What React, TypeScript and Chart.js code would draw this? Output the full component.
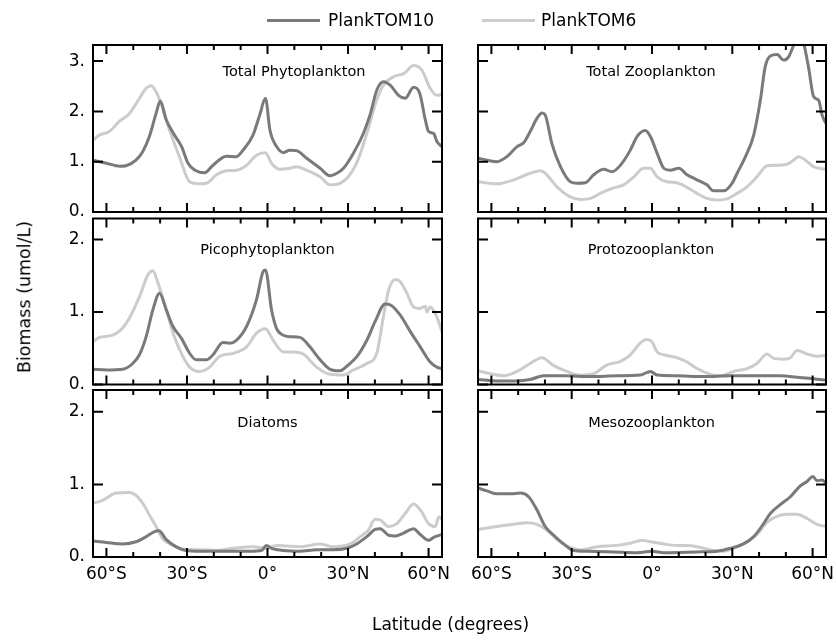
import React, { useEffect, useRef } from 'react';
import { Chart, registerables } from 'chart.js';

Chart.register(...registerables);

type Pt = [number, number];

// ---- data: [latitude, biomass (umol/L)] ----
const totalPhytoTOM10: Pt[] = [[-65,1.03],[-60,0.97],[-55,0.91],[-52.7,0.92],[-49,1.03],[-46.5,1.2],[-44,1.5],[-41.5,1.96],[-40,2.2],[-37.7,1.83],[-35,1.56],[-32,1.3],[-29.6,0.97],[-27,0.83],[-23.4,0.78],[-20.3,0.93],[-15.3,1.11],[-11.6,1.1],[-9.1,1.23],[-5.4,1.53],[-2.9,1.93],[-0.75,2.26],[0.9,1.63],[3.4,1.3],[5.9,1.18],[8.3,1.23],[10.8,1.22],[14.6,1.07],[19.6,0.87],[23.3,0.72],[25.8,0.77],[28.3,0.87],[32,1.17],[35.7,1.56],[38.2,1.93],[40.7,2.42],[43.2,2.59],[45.7,2.52],[48.8,2.32],[51.3,2.26],[54.4,2.48],[56.7,2.36],[58.8,1.83],[60,1.6],[61.9,1.56],[63.1,1.4],[65,1.3]];
const totalPhytoTOM6: Pt[] = [[-65,1.43],[-62.6,1.53],[-58.9,1.6],[-55.2,1.8],[-51.4,1.96],[-47.7,2.26],[-45.2,2.46],[-43.3,2.51],[-41.5,2.39],[-39,2.06],[-36.5,1.63],[-32.8,1.1],[-29,0.6],[-25.3,0.56],[-22.8,0.57],[-19,0.74],[-15.3,0.82],[-11.6,0.83],[-7.8,0.93],[-4.1,1.13],[-0.75,1.18],[1.5,0.97],[4.6,0.85],[8.3,0.87],[10.8,0.9],[14.6,0.83],[19.6,0.7],[23.3,0.54],[27,0.57],[30.1,0.7],[33.2,0.97],[37,1.56],[40.7,2.23],[43.2,2.52],[46.9,2.69],[50.7,2.75],[54.4,2.91],[57.5,2.82],[60.6,2.46],[63.1,2.32],[65,2.34]];
const totalZooTOM10: Pt[] = [[-65,1.07],[-61.6,1.03],[-57.9,1.0],[-54.2,1.1],[-50.4,1.3],[-47.9,1.38],[-45.5,1.6],[-43,1.86],[-41.1,1.97],[-39.9,1.93],[-37.4,1.36],[-34.2,0.9],[-30.5,0.6],[-28,0.57],[-24.9,0.58],[-21.8,0.74],[-18.1,0.85],[-14.9,0.8],[-11.8,0.93],[-8.1,1.23],[-5.6,1.5],[-2.5,1.62],[-0.6,1.5],[1.9,1.17],[4.4,0.87],[6.8,0.83],[10,0.87],[13.1,0.74],[16.8,0.64],[20.5,0.54],[23,0.42],[26.8,0.42],[29.9,0.57],[31.8,0.77],[34.9,1.1],[38,1.53],[40.5,2.23],[42.3,2.89],[44.2,3.1],[46.7,3.13],[49.2,3.02],[51.1,3.09],[53.5,3.4],[55,3.6],[56.5,3.4],[58.5,2.87],[60.4,2.29],[62.3,2.22],[63.5,1.93],[65,1.76]];
const totalZooTOM6: Pt[] = [[-65,0.6],[-57.9,0.56],[-51.7,0.64],[-45.5,0.77],[-41.7,0.82],[-39.9,0.77],[-35.5,0.5],[-30.5,0.3],[-26.8,0.25],[-23,0.27],[-19.3,0.37],[-14.9,0.47],[-10.6,0.54],[-6.8,0.7],[-3.1,0.87],[-0.6,0.87],[1.9,0.7],[5.6,0.6],[9.3,0.58],[13.1,0.49],[16.8,0.37],[20.5,0.27],[24.3,0.24],[28,0.26],[31.8,0.37],[35.5,0.5],[39.2,0.7],[43,0.92],[46.7,0.93],[50.4,0.95],[52.9,1.03],[54.8,1.1],[57.3,1.03],[60.4,0.9],[65,0.85]];
const picoTOM10: Pt[] = [[-65,0.21],[-60,0.2],[-53.9,0.21],[-50.2,0.29],[-47.7,0.41],[-45.2,0.66],[-42.7,1.03],[-40.2,1.26],[-37.7,1.03],[-35.2,0.8],[-32.1,0.64],[-29,0.43],[-26.5,0.34],[-22.8,0.34],[-20.3,0.41],[-16.6,0.58],[-14.1,0.57],[-11.6,0.61],[-7.8,0.8],[-4.1,1.17],[-1.6,1.56],[-0.75,1.58],[1.5,1.03],[3.4,0.77],[5.9,0.68],[8.3,0.66],[12.1,0.65],[15.8,0.52],[19.6,0.34],[23.3,0.21],[27,0.19],[30.1,0.27],[33.2,0.38],[37,0.61],[40.1,0.87],[43.8,1.11],[45.7,1.1],[49.4,0.96],[53.2,0.73],[56.9,0.52],[60.6,0.31],[63.1,0.24],[65,0.22]];
const picoTOM6: Pt[] = [[-65,0.59],[-62.6,0.65],[-57.7,0.68],[-52.7,0.84],[-47.7,1.21],[-44.6,1.51],[-42.7,1.57],[-40.8,1.4],[-37.7,1.03],[-35.2,0.71],[-32.1,0.43],[-29,0.24],[-25.3,0.18],[-21.5,0.24],[-17.8,0.39],[-12.8,0.43],[-7.8,0.52],[-4.1,0.71],[-0.75,0.77],[2.1,0.61],[5.9,0.45],[9.6,0.45],[13.3,0.42],[18.3,0.24],[23.3,0.14],[28.3,0.13],[32,0.2],[37,0.29],[40.7,0.43],[43.2,0.94],[45.1,1.3],[47.6,1.45],[49.4,1.42],[51.9,1.26],[54.4,1.07],[56.9,1.05],[58.8,1.08],[59.4,1.0],[60.6,1.07],[62.5,0.98],[65,0.73]];
const protoTOM10: Pt[] = [[-65,0.07],[-57.9,0.05],[-50.4,0.05],[-45.5,0.07],[-40.5,0.12],[-33,0.12],[-23,0.11],[-13.1,0.12],[-4.4,0.13],[-0.6,0.18],[1.9,0.13],[9.3,0.12],[19.3,0.11],[29.3,0.12],[39.2,0.12],[47.9,0.12],[54.2,0.1],[60.4,0.08],[65,0.06]];
const protoTOM6: Pt[] = [[-65,0.19],[-60.4,0.15],[-55.4,0.12],[-50.4,0.18],[-45.5,0.29],[-41.1,0.37],[-36.7,0.26],[-31.8,0.18],[-26.8,0.13],[-21.8,0.15],[-16.8,0.27],[-11.8,0.32],[-8.1,0.41],[-4.4,0.57],[-1.9,0.62],[0,0.59],[1.9,0.45],[4.4,0.41],[9.3,0.37],[13.1,0.31],[16.8,0.22],[21.8,0.14],[25.5,0.12],[30.5,0.18],[35.5,0.22],[39.2,0.29],[43,0.42],[45.5,0.36],[49.2,0.35],[51.7,0.37],[54.2,0.47],[57.9,0.42],[61.6,0.39],[65,0.4]];
const diatomTOM10: Pt[] = [[-65,0.22],[-60,0.2],[-53.9,0.18],[-49,0.21],[-45.2,0.28],[-42.1,0.35],[-40.5,0.36],[-37.7,0.24],[-34,0.14],[-30.3,0.09],[-25.3,0.08],[-19,0.08],[-12.8,0.08],[-6.6,0.08],[-2.2,0.09],[-0.4,0.16],[1.5,0.12],[5.9,0.09],[12.1,0.08],[18.3,0.1],[24.5,0.1],[29.5,0.12],[33.2,0.18],[37,0.28],[40.1,0.38],[42,0.39],[45.1,0.3],[47.6,0.29],[50.7,0.33],[54.4,0.39],[56.9,0.31],[60,0.23],[61.9,0.27],[65,0.31]];
const diatomTOM6: Pt[] = [[-65,0.74],[-61.4,0.78],[-56.4,0.88],[-51.4,0.89],[-49,0.85],[-46.5,0.74],[-44,0.58],[-41.5,0.42],[-39,0.25],[-35.2,0.16],[-30.3,0.1],[-25.3,0.1],[-19,0.09],[-12.8,0.12],[-5.4,0.14],[-0.4,0.12],[3.4,0.16],[7.1,0.15],[12.1,0.14],[19.6,0.18],[24.5,0.14],[30.8,0.18],[34.5,0.28],[37.6,0.37],[40.1,0.52],[42,0.51],[45.1,0.42],[48.2,0.46],[51.3,0.6],[54.4,0.73],[56.9,0.65],[60,0.46],[62.5,0.42],[63.8,0.55],[65,0.52]];
const mesoTOM10: Pt[] = [[-65,0.95],[-61.6,0.91],[-57.9,0.87],[-52.9,0.87],[-49.2,0.88],[-46.1,0.83],[-43,0.65],[-39.9,0.42],[-36.7,0.3],[-33,0.18],[-29.3,0.09],[-24.3,0.08],[-14.3,0.07],[-5.6,0.06],[0,0.08],[4.4,0.06],[16.8,0.07],[24.3,0.08],[29.3,0.12],[34.2,0.18],[38,0.28],[41.7,0.46],[44.2,0.6],[47.9,0.72],[51.7,0.83],[55.4,0.98],[57.9,1.04],[60.1,1.11],[61.6,1.05],[63.5,1.06],[65,1.02]];
const mesoTOM6: Pt[] = [[-65,0.38],[-57.9,0.42],[-51.7,0.45],[-46.7,0.47],[-43,0.45],[-39.3,0.37],[-35.5,0.24],[-31.8,0.15],[-26.8,0.1],[-20.5,0.14],[-13.1,0.16],[-8.1,0.19],[-3.7,0.23],[-0.6,0.21],[4.4,0.18],[9.3,0.16],[13.1,0.16],[18.1,0.13],[23,0.09],[26.8,0.08],[30.5,0.12],[35.5,0.21],[39.2,0.31],[43,0.48],[46.7,0.56],[50.4,0.59],[54.2,0.59],[57.9,0.53],[61.6,0.45],[65,0.42]];

const SERIES_NAMES = ['PlankTOM10', 'PlankTOM6'];
const SERIES_COLORS = ['#7a7a7a', '#cccccc'];
const PANEL_TITLES = ['Total Phytoplankton', 'Total Zooplankton', 'Picophytoplankton', 'Protozooplankton', 'Diatoms', 'Mesozooplankton'];
const PANEL_SERIES: Pt[][][] = [
  [totalPhytoTOM10, totalPhytoTOM6],
  [totalZooTOM10, totalZooTOM6],
  [picoTOM10, picoTOM6],
  [protoTOM10, protoTOM6],
  [diatomTOM10, diatomTOM6],
  [mesoTOM10, mesoTOM6],
];
const PANEL_YMAX = [3.32, 3.32, 2.29, 2.29, 2.3, 2.3];
const LAT_MIN = -65;
const LAT_MAX = 65;
const LAT_MINOR_TICKS = [-60, -50, -40, -30, -20, -10, 0, 10, 20, 30, 40, 50, 60];
const Y_TITLE = 'Biomass (umol/L)';
const X_TITLE = 'Latitude (degrees)';

// ---- layout (page pixels) ----
const W = 836;
const H = 642;
const X_AXIS_H = 40;
const COLS = [{ l: 93, r: 442 }, { l: 478, r: 826 }];
const ROWS = [{ t: 45, b: 212 }, { t: 218.5, b: 384.5 }, { t: 390, b: 557 }];
const FONT = "'DejaVu Sans', sans-serif";

const fmtLat = (v: number) => (v === 0 ? '0°' : v < 0 ? `${-v}°S` : `${v}°N`);

const framePlugin = {
  id: 'idlFrame',
  afterDraw(chart: any) {
    const { ctx, chartArea: a, scales } = chart;
    const x = scales.x;
    const y = scales.y;
    ctx.save();
    ctx.strokeStyle = '#000';
    ctx.lineWidth = 2;
    ctx.beginPath();
    for (const v of LAT_MINOR_TICKS) {
      const px = x.getPixelForValue(v);
      const len = v % 30 === 0 ? 9 : 5;
      ctx.moveTo(px, a.bottom);
      ctx.lineTo(px, a.bottom - len);
      ctx.moveTo(px, a.top);
      ctx.lineTo(px, a.top + len);
    }
    for (const t of y.ticks) {
      const py = y.getPixelForValue(t.value);
      ctx.moveTo(a.left, py);
      ctx.lineTo(a.left + 10, py);
      ctx.moveTo(a.right, py);
      ctx.lineTo(a.right - 10, py);
    }
    ctx.stroke();
    ctx.strokeRect(a.left, a.top, a.right - a.left, a.bottom - a.top);
    ctx.restore();
  },
};

function makeChart(canvas: HTMLCanvasElement, i: number) {
  const col = COLS[i % 2];
  const row = ROWS[Math.floor(i / 2)];
  const showX = Math.floor(i / 2) === 2;
  const showY = i % 2 === 0;
  return new Chart(canvas, {
    type: 'line',
    data: {
      datasets: PANEL_SERIES[i].map((s, k) => ({
        label: SERIES_NAMES[k],
        data: s.map(([x, y]) => ({ x, y })),
        borderColor: SERIES_COLORS[k],
        backgroundColor: SERIES_COLORS[k],
        borderWidth: 3,
        pointRadius: 0,
        cubicInterpolationMode: 'monotone',
        fill: false,
        clip: 0,
        order: k,
      })),
    },
    options: {
      responsive: false,
      animation: false,
      events: [],
      layout: { padding: { left: 0, top: row.t, right: W - col.r, bottom: H - row.b - X_AXIS_H } },
      plugins: { legend: { display: false }, tooltip: { enabled: false }, title: { display: false } },
      scales: {
        x: {
          type: 'linear',
          min: LAT_MIN,
          max: LAT_MAX,
          grid: { display: false, drawTicks: false },
          border: { display: false },
          ticks: {
            display: showX,
            stepSize: 30,
            includeBounds: false,
            autoSkip: false,
            maxRotation: 0,
            padding: 7,
            color: '#000',
            font: { family: FONT, size: 17 },
            callback: (v: any) => fmtLat(Number(v)),
          },
          afterFit: (s: any) => {
            s.height = X_AXIS_H;
            s.paddingLeft = 0;
            s.paddingRight = 0;
          },
        },
        y: {
          type: 'linear',
          min: 0,
          max: PANEL_YMAX[i],
          grid: { display: false, drawTicks: false },
          border: { display: false },
          ticks: {
            display: showY,
            stepSize: 1,
            includeBounds: false,
            autoSkip: false,
            padding: 8,
            color: '#000',
            font: { family: FONT, size: 17 },
            callback: (v: any) => `${Number(v)}.`,
          },
          afterFit: (s: any) => {
            s.width = col.l;
            s.paddingTop = 0;
            s.paddingBottom = 0;
          },
        },
      },
    },
    plugins: [framePlugin],
  } as any);
}

const PANEL_TITLE_POS = [
  { cx: 294, cy: 70.5 },
  { cx: 651, cy: 70.5 },
  { cx: 267.5, cy: 249 },
  { cx: 651, cy: 249 },
  { cx: 267.5, cy: 422 },
  { cx: 651.5, cy: 422 },
];

function Label({ text, cx, cy, size, rotate }: { text: string; cx: number; cy: number; size: number; rotate?: boolean }) {
  return (
    <div
      style={{
        position: 'absolute',
        left: cx,
        top: cy,
        fontFamily: FONT,
        fontSize: size,
        lineHeight: `${size}px`,
        color: '#000',
        whiteSpace: 'nowrap',
        transform: `translate(-50%, -50%)${rotate ? ' rotate(-90deg)' : ''}`,
      }}
    >
      {text}
    </div>
  );
}

export default function App() {
  const refs = useRef<(HTMLCanvasElement | null)[]>([]);
  useEffect(() => {
    const charts = refs.current.map((c, i) => (c ? makeChart(c, i) : null));
    return () => charts.forEach((c) => c && c.destroy());
  }, []);
  return (
    <div style={{ position: 'absolute', left: 0, top: 0, width: W, height: H, background: '#fff', overflow: 'hidden' }}>
      {PANEL_TITLES.map((_, i) => (
        <canvas
          key={i}
          ref={(el) => {
            refs.current[i] = el;
          }}
          width={W}
          height={H}
          style={{ position: 'absolute', left: 0, top: 0, width: W, height: H }}
        />
      ))}
      {PANEL_TITLES.map((t, i) => (
        <Label key={t} text={t} cx={PANEL_TITLE_POS[i].cx} cy={PANEL_TITLE_POS[i].cy} size={14.5} />
      ))}
      {/* legend */}
      <div style={{ position: 'absolute', left: 267, top: 19, width: 53, height: 3, background: SERIES_COLORS[0] }} />
      <div style={{ position: 'absolute', left: 328, top: 10, fontFamily: FONT, fontSize: 17, lineHeight: '20px', whiteSpace: 'nowrap' }}>{SERIES_NAMES[0]}</div>
      <div style={{ position: 'absolute', left: 482, top: 19, width: 53, height: 3, background: SERIES_COLORS[1] }} />
      <div style={{ position: 'absolute', left: 541, top: 10, fontFamily: FONT, fontSize: 17, lineHeight: '20px', whiteSpace: 'nowrap' }}>{SERIES_NAMES[1]}</div>
      <Label text={Y_TITLE} cx={24.5} cy={296.5} size={17.5} rotate />
      <Label text={X_TITLE} cx={450.5} cy={624} size={17} />
    </div>
  );
}
